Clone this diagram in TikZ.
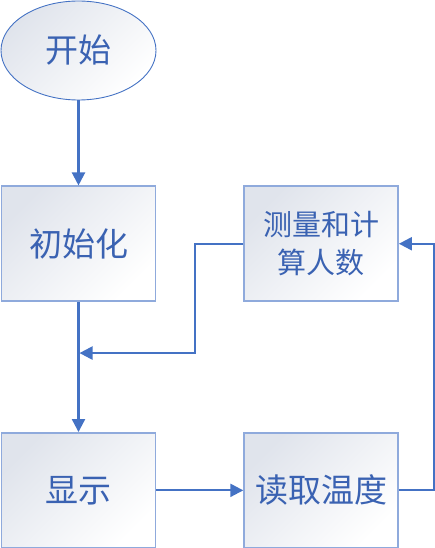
\documentclass[tikz,border=0pt]{standalone}
\usepackage{fontspec}
\newfontfamily\cjk{Noto Sans CJK SC}
\usetikzlibrary{positioning,shapes.geometric,arrows.meta}
\definecolor{linkblue}{HTML}{4472C4}
\definecolor{edgeblue}{HTML}{8FAADC}
\definecolor{textblue}{HTML}{3A62B2}
\definecolor{shadegray}{HTML}{E0E4EC}

\begin{document}
\begin{tikzpicture}[
  x=1pt, y=1pt,
  every node/.style={font=\cjk\fontsize{33}{38}\selectfont, text=textblue},
  startstop/.style={ellipse, draw=linkblue, line width=0.9pt,
    minimum width=155pt, minimum height=99pt, inner sep=0pt,
    top color=shadegray, bottom color=white, shading angle=45},
  process/.style={rectangle, draw=edgeblue, line width=1.6pt,
    minimum width=154pt, minimum height=115pt, inner sep=0pt, align=center,
    top color=shadegray, bottom color=white, shading angle=45},
  link/.style={draw=linkblue, line width=2.2pt, -{Triangle[length=13pt,width=13pt]}}
]
  \useasboundingbox (0,0) rectangle (435,-548);

  % left column
  \node[startstop] (start) at (78.5,-50.5) {开始};
  \node[process, below=85pt of start] (init) {初始化};
  \node[process, below=130pt of init] (show) {显示};

  % right column
  \node[process, right=87pt of init, font=\cjk\fontsize{29}{38}\selectfont] (count) {测量和计\\算人数};
  \node[process, right=87pt of show] (read) {读取温度};

  \coordinate[below=51pt of init.south] (join);

  \draw[link] (start) -- (init);
  \draw[link] (init) -- (show);
  \draw[link] (show) -- (read);
  \draw[link] (read.east) -- ++(35,0) |- (count.east);
  \draw[link, shorten >=1pt] (count.west) -- ++(-48,0) |- (join);
\end{tikzpicture}
\end{document}
